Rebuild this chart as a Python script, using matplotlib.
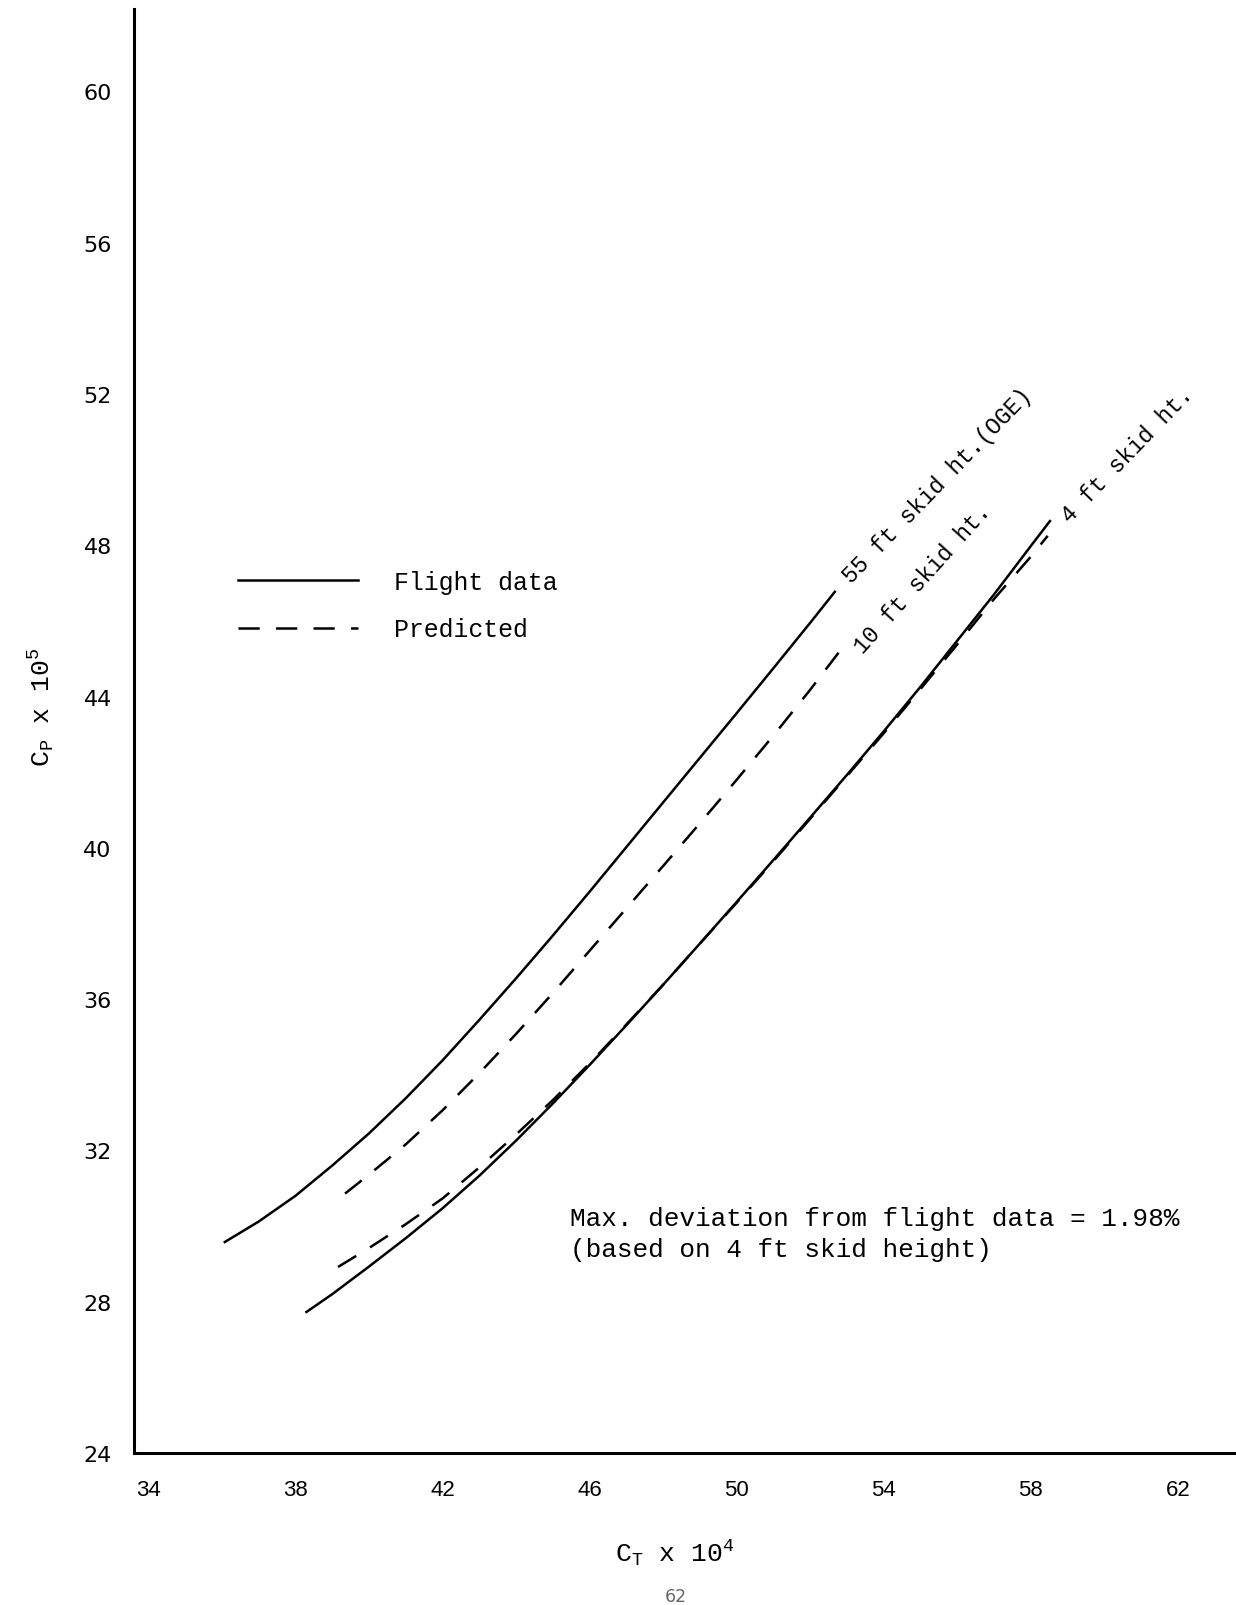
import matplotlib
matplotlib.use("Agg")
import matplotlib.pyplot as plt

# Estilo de texto "máquina de escrever" para rótulos e anotações
plt.rcParams['mathtext.fontset'] = 'custom'
plt.rcParams['mathtext.rm'] = 'Liberation Mono'
plt.rcParams['mathtext.default'] = 'rm'

TYPE_FONT = 'Liberation Mono'

# Dados (C_T x 10^4, C_P x 10^5)
ct_55_flight = [36.08, 37, 38, 39, 40, 41, 42, 43, 44, 45, 46, 47, 48, 49, 50, 51, 52, 52.67]
cp_55_flight = [29.58, 30.12, 30.8, 31.6, 32.45, 33.38, 34.38, 35.45, 36.55, 37.68, 38.84, 40.02,
                41.2, 42.38, 43.56, 44.75, 45.95, 46.77]

ct_10_pred = [39.35, 40, 41, 42, 43, 44, 45, 46, 47, 48, 49, 50, 51, 52, 53.0]
cp_10_pred = [30.86, 31.36, 32.16, 33.06, 34.04, 35.08, 36.16, 37.28, 38.4, 39.52, 40.65, 41.8,
              42.97, 44.18, 45.45]

ct_4_flight = [38.3, 39, 40, 41, 42, 43, 44, 45, 46, 47, 48, 49, 50, 51, 52, 53, 54, 55, 56, 57, 58, 58.52]
cp_4_flight = [27.73, 28.2, 28.93, 29.68, 30.47, 31.33, 32.26, 33.24, 34.26, 35.31, 36.38, 37.47,
               38.57, 39.68, 40.8, 41.93, 43.08, 44.26, 45.48, 46.7, 47.98, 48.64]

ct_4_pred = [39.16, 40, 41, 42, 43, 44, 45, 46, 47, 48, 49, 50, 51, 52, 53, 54, 55, 56, 57, 58, 58.46]
cp_4_pred = [28.92, 29.42, 30.05, 30.73, 31.55, 32.42, 33.33, 34.3, 35.33, 36.38, 37.47, 38.55,
             39.65, 40.77, 41.9, 43.03, 44.2, 45.38, 46.58, 47.7, 48.25]

x_ticks = [34, 38, 42, 46, 50, 54, 58, 62]
y_ticks = [24, 28, 32, 36, 40, 44, 48, 52, 56, 60]

curve_labels = ["55 ft skid ht.(OGE)", "10 ft skid ht.", "4 ft skid ht."]
note_text = "Max. deviation from flight data = 1.98%\n(based on 4 ft skid height)"

fig = plt.figure(figsize=(12.36, 16.06), dpi=100)
ax = fig.add_axes([0.1084, 0.0946, 0.8916, 0.899])

lw = 1.8
dash = (0, (8.5, 6.5))

ax.plot(ct_55_flight, cp_55_flight, color='black', lw=lw, label='Flight data')
ax.plot(ct_10_pred, cp_10_pred, color='black', lw=lw, linestyle=dash, label='Predicted')
ax.plot(ct_4_flight, cp_4_flight, color='black', lw=lw)
ax.plot(ct_4_pred, cp_4_pred, color='black', lw=lw, linestyle=dash)

ax.set_xlim(33.61, 63.58)
ax.set_ylim(24, 62.17)

ax.spines['top'].set_visible(False)
ax.spines['right'].set_visible(False)
ax.spines['left'].set_linewidth(2.2)
ax.spines['bottom'].set_linewidth(2.2)

ax.set_xticks(x_ticks)
ax.set_yticks(y_ticks)
ax.tick_params(axis='both', length=0)
ax.tick_params(axis='x', pad=19, labelsize=16)
ax.tick_params(axis='y', pad=16, labelsize=16)
for lab in ax.get_xticklabels():
    lab.set_fontfamily('Liberation Sans')

ax.set_ylabel(r'C$_P$ x 10$^5$', fontsize=19, fontfamily=TYPE_FONT)
ax.yaxis.set_label_coords(-0.070, 0.517)
ax.set_xlabel(r'C$_T$ x 10$^4$', fontsize=19, fontfamily=TYPE_FONT)
ax.xaxis.set_label_coords(0.491, -0.059)

# rótulos inclinados no fim das curvas
ax.text(53.0, 47.1, curve_labels[0], rotation=46, rotation_mode='anchor',
        ha='left', va='center', fontsize=16.5, fontfamily=TYPE_FONT)
ax.text(53.3, 45.25, curve_labels[1], rotation=48, rotation_mode='anchor',
        ha='left', va='center', fontsize=16.5, fontfamily=TYPE_FONT)
ax.text(58.95, 48.7, curve_labels[2], rotation=46, rotation_mode='anchor',
        ha='left', va='center', fontsize=16.5, fontfamily=TYPE_FONT)

ax.text(0.396, 0.171, note_text, transform=ax.transAxes, ha='left', va='top',
        fontsize=18.8, fontfamily=TYPE_FONT, linespacing=1.35)

ax.legend(loc='upper left', bbox_to_anchor=(0.094, 0.6116), frameon=False,
          prop={'family': TYPE_FONT, 'size': 17.9}, handlelength=4.85,
          handletextpad=1.44, labelspacing=0.94, borderpad=0, borderaxespad=0)

fig.text(0.547, 0.0055, "62", ha='center', va='center', fontsize=12.5, color='#666666')

fig.savefig("out.png", dpi=100)
